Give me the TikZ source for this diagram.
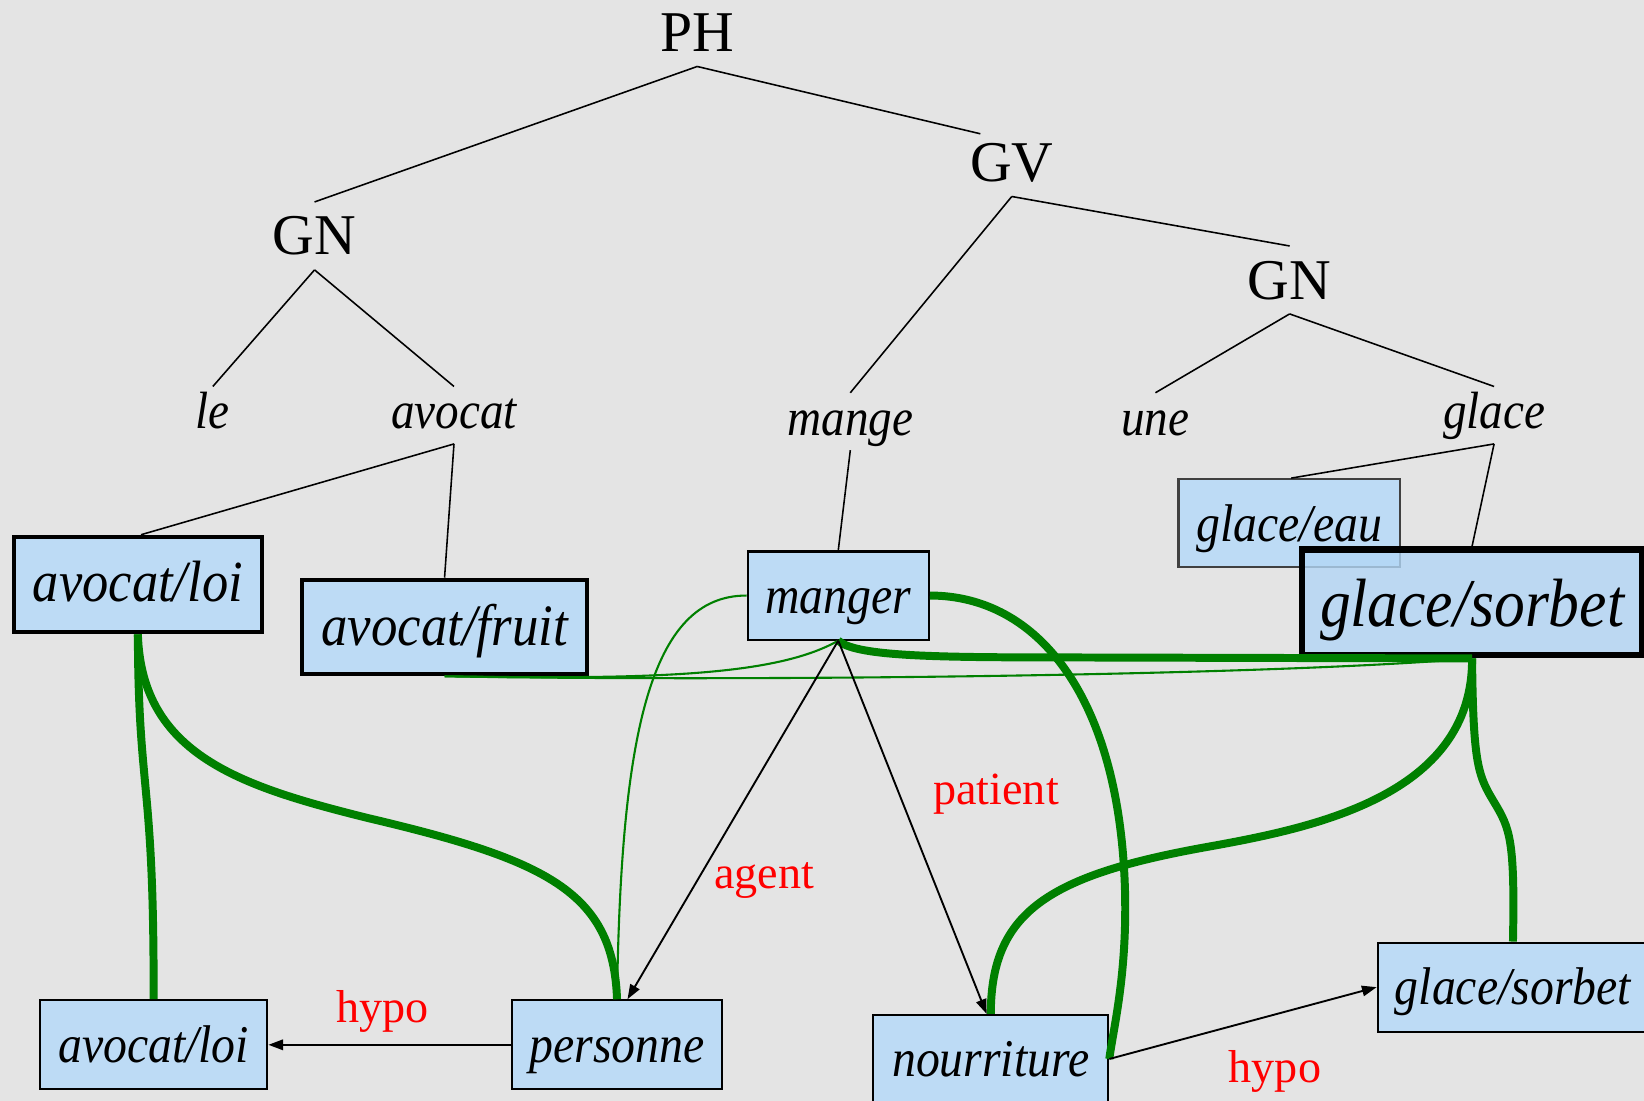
\documentclass[tikz,border=0pt]{standalone}
\usepackage{fontspec}
\setmainfont{Liberation Serif}
\usetikzlibrary{arrows.meta}
\definecolor{bg}{RGB}{228,228,228}
\definecolor{boxblue}{RGB}{189,219,245}
\definecolor{sorbetblue}{RGB}{178,214,246}
\definecolor{lgreen}{RGB}{0,128,0}
\newcommand{\sqz}[1]{\scalebox{0.9}[1]{#1}}
\begin{document}
\begin{tikzpicture}[x=0.5pt,y=-0.5pt,
  capnode/.style={font=\fontsize{27.5}{30}\selectfont, inner sep=0pt, text height=18.2pt, text depth=0pt, minimum height=32pt},
  itnode/.style={font=\fontsize{25}{30}\selectfont\itshape, inner sep=0pt, text height=20pt, text depth=7pt},
  wbox/.style={draw=black, fill=boxblue, line width=1pt, inner sep=0pt, text height=21pt, text depth=4pt, font=\fontsize{25.3}{30}\selectfont\itshape},
  redlab/.style={text=red, font=\fontsize{22}{26}\selectfont, inner sep=0pt},
  treeline/.style={line width=0.75pt, black},
  arr/.style={line width=0.9pt, black, -{Triangle[length=7pt,width=5pt]}},
  gthick/.style={draw=lgreen, line width=3.8pt},
  gthin/.style={draw=lgreen, line width=1pt},
]
\useasboundingbox (0,0) rectangle (1568,1050);
\clip (0,0) rectangle (1568,1050);
\fill[bg] (0,0) rectangle (1568,1050);

% tree labels
\node[capnode] (PH) at (665,31) {PH};
\node[capnode] (GN1) at (300,225) {GN};
\node[capnode] (GV) at (965,155) {GV};
\node[capnode] (GN2) at (1230,267) {GN};
\node[itnode] (le) at (203,396) {\sqz{le}};
\node[itnode] (avocat) at (433,396) {\sqz{avocat}};
\node[itnode] (mange) at (811,402) {\sqz{mange}};
\node[itnode] (une) at (1102,402) {\sqz{une}};
\node[itnode] (glace) at (1425,396) {\sqz{glace}};

% boxes
\node[wbox, line width=2pt, minimum width=118.5pt, minimum height=45.5pt, text height=22pt, text depth=6pt, font=\fontsize{27.8}{30}\selectfont\itshape] (avloiT) at (131.5,557.5) {\sqz{avocat/loi}};
\node[wbox, line width=2pt, minimum width=136pt, minimum height=45pt, text height=23pt, text depth=5pt, font=\fontsize{28}{30}\selectfont\itshape] (avfruit) at (424,598) {\sqz{avocat/fruit}};
\node[wbox, minimum width=86.5pt, minimum height=42pt] (manger) at (799.5,568) {\sqz{manger}};
\node[wbox, draw=black!75, minimum width=105.5pt, minimum height=42pt] (geau) at (1229.5,499) {\sqz{glace/eau}};
\node[wbox, line width=3pt, fill=sorbetblue, fill opacity=0.8, text opacity=1, minimum width=162pt, minimum height=50.5pt, text height=28pt, text depth=4.5pt, font=\fontsize{32.6}{36}\selectfont\itshape] (gsorbet) at (1404,574.5) {\sqz{glace/sorbet}};
\node[wbox, minimum width=108.5pt, minimum height=42.5pt] (avloiB) at (146.5,996.5) {\sqz{avocat/loi}};
\node[wbox, minimum width=100.5pt, minimum height=42.5pt] (personne) at (588.5,996.5) {\sqz{personne}};
\node[wbox, minimum width=112pt, minimum height=42pt] (nourr) at (945,1010) {\sqz{nourriture}};
\node[wbox, minimum width=129pt, minimum height=42.5pt] (gsorbetB) at (1443,941.5) {\sqz{glace/sorbet}};

% red labels
\node[redlab] (hypo1) at (365,965) {hypo};
\node[redlab] (agent) at (729,840) {agent};
\node[redlab] (patient) at (950,757) {patient};
\node[redlab] (hypo2) at (1216,1022) {hypo};

% tree lines
\draw[treeline] (PH.south) -- (GN1.north);
\draw[treeline] (PH.south) -- ([shift={(-30,5)}]GV.north);
\draw[treeline] (GN1.south) -- (le.north);
\draw[treeline] (GN1.south) -- (avocat.north);
\draw[treeline] (GV.south) -- (mange.north);
\draw[treeline] (GV.south) -- (GN2.north);
\draw[treeline] (GN2.south) -- (une.north);
\draw[treeline] (GN2.south) -- (glace.north);
\draw[treeline] (avocat.south) -- ([shift={(3,0)}]avloiT.north);
\draw[treeline] (avocat.south) -- (avfruit.north);
\draw[treeline] (mange.south) -- (manger.north);
\draw[treeline] (glace.south) -- ([shift={(2,0)}]geau.north);
\draw[treeline] (glace.south) -- (gsorbet.north);

% thin green
\draw[gthin] (avfruit.south) .. controls (700,650) and (1200,645) .. (gsorbet.south);
\draw[gthin] (avfruit.south) .. controls (620,648) and (740,645) .. (manger.south);
\draw[gthin] (manger.west) .. controls (620,568) and (592,700) .. (personne.north);

% thick green
\draw[gthick] (avloiT.south) .. controls (132,760) and (147,740) .. (avloiB.north);
\draw[gthick] (avloiT.south) .. controls (135,720) and (230,750) .. (350,780) .. controls (520,820) and (585,850) .. (personne.north);
\draw[gthick] (manger.east) .. controls (990,568) and (1068,665) .. (1073,850) .. controls (1075,930) and (1062,980) .. (nourr.east);
\draw[gthick] (manger.south) .. controls (815,625) and (880,627) .. (1000,627) -- (gsorbet.south);
\draw[gthick] (gsorbet.south) .. controls (1405,760) and (1250,790) .. (1150,808) .. controls (1000,835) and (945,870) .. (nourr.north);
\draw[gthick] (gsorbet.south) .. controls (1405,730) and (1410,740) .. (1425,765) .. controls (1440,790) and (1445,800) .. (gsorbetB.north);

% arrows
\draw[arr] (manger.south) -- ([shift={(10,0)}]personne.north);
\draw[arr] (manger.south) -- ([shift={(-4,0)}]nourr.north);
\draw[arr] (personne.west) -- (avloiB.east);
\draw[arr] (nourr.east) -- (gsorbetB.west);
\end{tikzpicture}
\end{document}
